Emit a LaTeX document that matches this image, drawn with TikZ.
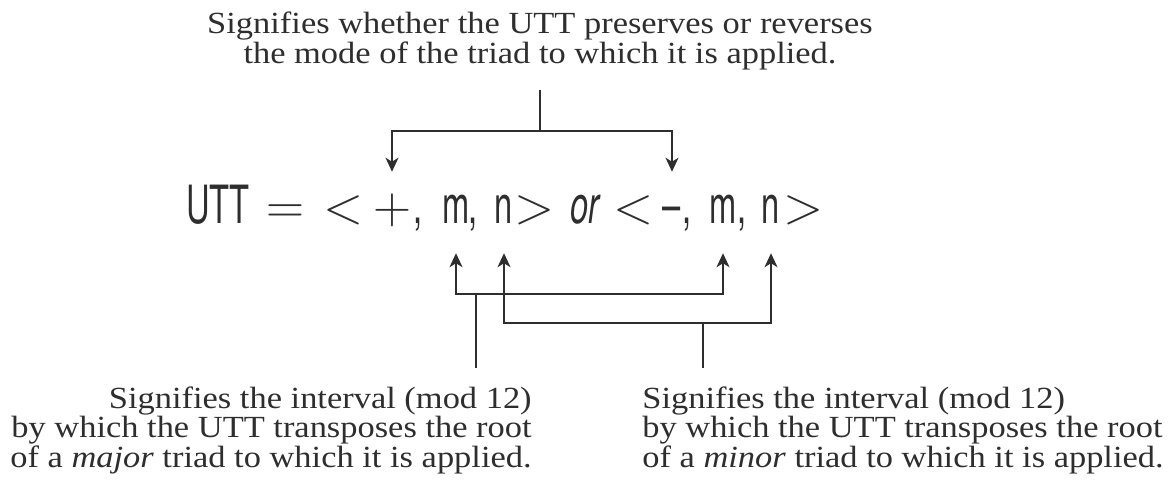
\documentclass[tikz,border=0pt]{standalone}
\usepackage{fontspec}
\setmainfont{Liberation Serif}[FakeStretch=1.12]
\newfontfamily\uttfont{TeX Gyre Heros}[FakeStretch=0.62]
\newcommand{\lmsym}{\fontfamily{lmr}\selectfont}
\usetikzlibrary{arrows.meta}
\definecolor{ink}{HTML}{2E2E2E}

\begin{document}
\begin{tikzpicture}[
  x=0.02cm, y=-0.02cm,
  >={Stealth[length=2.8mm, width=2.6mm, inset=0.8mm]},
  every node/.style={text=ink},
  note/.style={inner sep=0pt, outer ysep=11pt, font=\fontsize{17.5}{16}\selectfont},
  glyph/.style={inner sep=0pt, anchor=base, text height=22pt, text depth=0pt, font=\uttfont\fontsize{30}{30}\selectfont},
  sym/.style={glyph, font=\lmsym\fontsize{30}{30}\selectfont},
  wire/.style={ink, line width=0.85pt},
  down/.style={wire, ->, shorten >=7pt},
  up/.style={wire, ->, shorten >=17pt},
]

% Frame
\useasboundingbox (0,0) rectangle (1173,495);

% Mode note
\node[note, anchor=north, align=center, font=\fontsize{17.5}{17}\selectfont] (modetxt) at (540,-7) {Signifies whether the UTT preserves or reverses\\the mode of the triad to which it is applied.};

% --- The formula ---
\node[glyph] (utt) at (218,223) {UTT};
\node[sym] (eq) at (285,223) {=};
\node[sym] (lt1) at (344,223) {<};
\node[sym] (plus) at (392,223) {+};
\node[glyph] (c1) at (418,223) {,};
\node[glyph] (m1) at (456,223) {m};
\node[glyph] (c2) at (473,223) {,};
\node[glyph] (n1) at (504,223) {n};
\node[sym] (gt1) at (535,223) {>};
\node[glyph, font=\uttfont\itshape\fontsize{30}{30}\selectfont] (or) at (585,223) {or};
\node[sym] (lt2) at (634,223) {<};
\node[glyph] (minus) at (672,223) {–};
\node[glyph] (c3) at (687,223) {,};
\node[glyph] (m2) at (723,223) {m};
\node[glyph] (c4) at (742,223) {,};
\node[glyph] (n2) at (771,223) {n};
\node[sym] (gt2) at (804,223) {>};

% Mode connectors
\coordinate (modesplit) at (540,131);
\draw[wire] (modetxt.south) -- (modesplit);
\draw[down] (modesplit) -| (plus.north);
\draw[down] (modesplit) -| (minus.north);

% --- Interval notes ---
\node[note, anchor=north east, align=right] (majtxt) at (532,368) {Signifies the interval (mod 12)\\by which the UTT transposes the root\\of a \emph{major} triad to which it is applied.};
\node[note, anchor=north west, align=left] (mintxt) at (642,368) {Signifies the interval (mod 12)\\by which the UTT transposes the root\\of a \emph{minor} triad to which it is applied.};

% Major connectors
\coordinate (majfork) at (476,294);
\draw[wire] (majtxt.north -| majfork) -- (majfork);
\draw[up] (majfork) -| (m1.south);
\draw[up] (majfork) -| (m2.south);

% Minor connectors
\coordinate (minfork) at (703,323);
\draw[wire] (mintxt.north -| minfork) -- (minfork);
\draw[up] (minfork) -| (n1.south);
\draw[up] (minfork) -| (n2.south);

\end{tikzpicture}
\end{document}
